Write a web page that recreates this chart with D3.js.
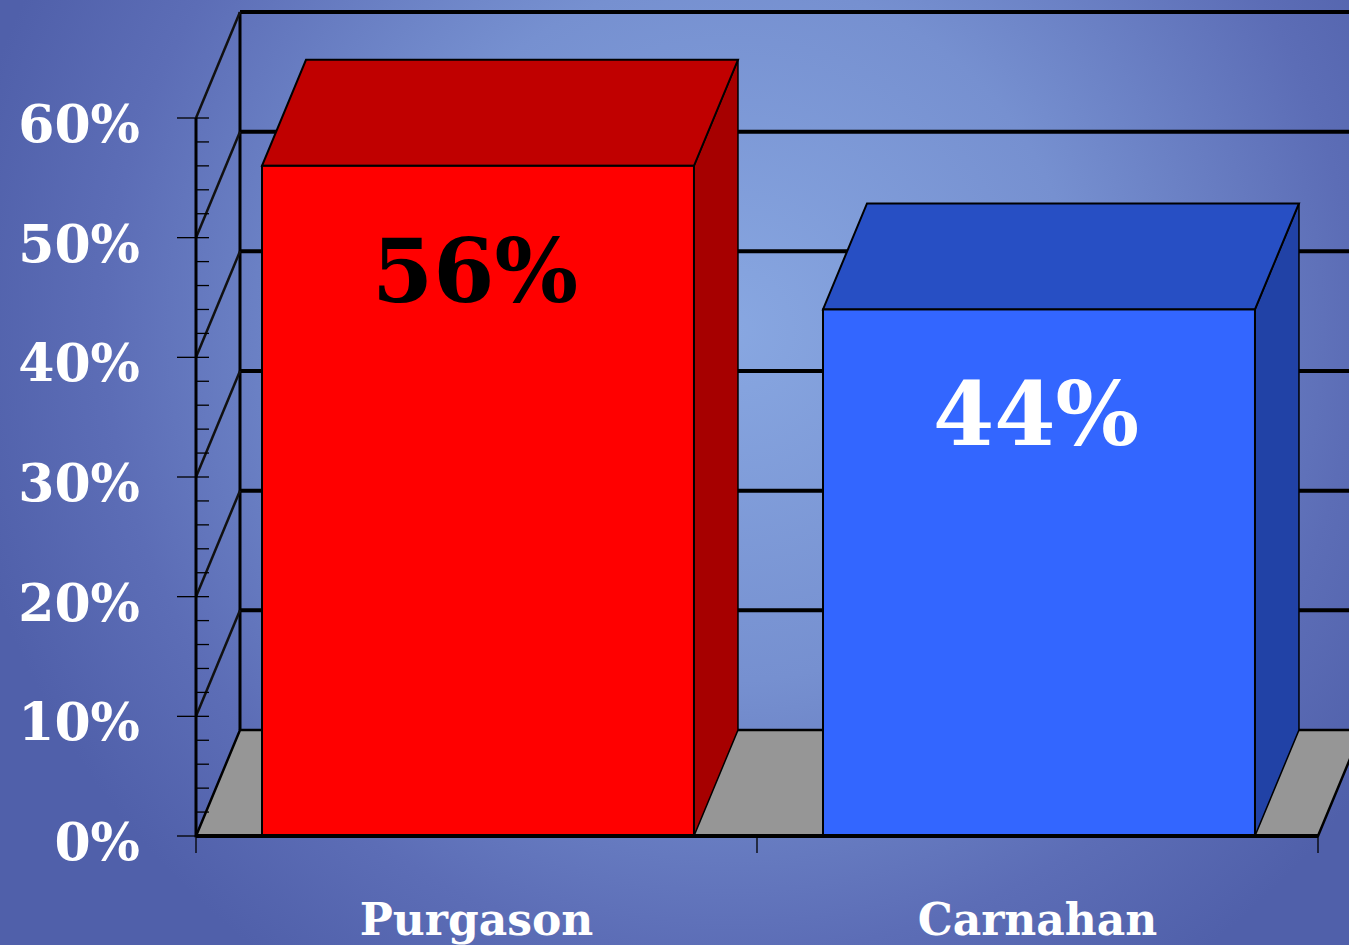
<!DOCTYPE html>
<html>
<head>
<meta charset="utf-8">
<script src="https://cdn.jsdelivr.net/npm/d3@7"></script>
<style>
  html, body { margin: 0; padding: 0; overflow: hidden; background: #5060aa; }
  svg { display: block; }
  text { font-family: "DejaVu Serif", serif; font-weight: bold; }
</style>
</head>
<body>
<svg id="chart" width="1349" height="945"></svg>
<script>
// Data
const candidates = ['Purgason', 'Carnahan'];
const shares = [0.56, 0.44];
const valueLabels = ['56%', '44%'];
const yTicks = [0, 0.1, 0.2, 0.3, 0.4, 0.5, 0.6];
const yTickLabels = ['0%', '10%', '20%', '30%', '40%', '50%', '60%'];

const frontColors = ['#ff0000', '#3366ff'];
const topColors = ['#c00000', '#274fc4'];
const sideColors = ['#a60000', '#2142a6'];
const labelColors = ['#000000', '#ffffff'];

const svg = d3.select('#chart');
const W = 1349, H = 945;

// 3D depth offset
const DX = 44, DY = -106;

const y = d3.scaleLinear().domain([0, 0.6]).range([836, 118]);
const x = d3.scaleBand().domain(candidates).range([196, 1318]).padding(0);
const barPad = 66;
const barW = x.bandwidth() * 0.77;

const defs = svg.append('defs');
const bg = defs.append('radialGradient')
  .attr('id', 'bg')
  .attr('gradientUnits', 'userSpaceOnUse')
  .attr('cx', 730).attr('cy', 330).attr('r', 780);
bg.append('stop').attr('offset', 0).attr('stop-color', '#88a7e1');
bg.append('stop').attr('offset', 0.45).attr('stop-color', '#7690d0');
bg.append('stop').attr('offset', 0.8).attr('stop-color', '#5c6db6');
bg.append('stop').attr('offset', 1).attr('stop-color', '#5060aa');

svg.append('rect').attr('width', W).attr('height', H).attr('fill', 'url(#bg)');

const x0 = x.range()[0], x1 = x.range()[1];

// back wall gridlines
svg.append('g')
  .selectAll('line')
  .data(yTicks.filter(t => t > 0))
  .join('line')
  .attr('x1', x0 + DX).attr('x2', x1 + DX + 40)
  .attr('y1', d => y(d) + DY).attr('y2', d => y(d) + DY)
  .attr('stroke', '#000').attr('stroke-width', 4);

// back wall left edge
svg.append('line')
  .attr('x1', x0 + DX).attr('x2', x0 + DX)
  .attr('y1', y(0.6) + DY).attr('y2', y(0) + DY)
  .attr('stroke', '#000').attr('stroke-width', 3);

// side wall diagonals
svg.append('g')
  .selectAll('line')
  .data(yTicks.filter(t => t > 0))
  .join('line')
  .attr('x1', x0).attr('y1', d => y(d))
  .attr('x2', x0 + DX).attr('y2', d => y(d) + DY)
  .attr('stroke', '#111').attr('stroke-width', 2.5);

// floor
svg.append('path')
  .attr('d', `M${x0},${y(0)}L${x1},${y(0)}L${x1 + DX},${y(0) + DY}L${x0 + DX},${y(0) + DY}Z`)
  .attr('fill', '#969696')
  .attr('stroke', '#000').attr('stroke-width', 2.5);

// front value axis
svg.append('line')
  .attr('x1', x0).attr('x2', x0)
  .attr('y1', y(0.6)).attr('y2', y(0))
  .attr('stroke', '#000').attr('stroke-width', 3);

const minorTicks = d3.range(0, 61, 2).map(v => v / 100);
svg.append('g')
  .selectAll('line')
  .data(minorTicks)
  .join('line')
  .attr('x1', d => (Math.round(d * 100) % 10 === 0) ? x0 - 19 : x0)
  .attr('x2', x0 + 13)
  .attr('y1', d => y(d)).attr('y2', d => y(d))
  .attr('stroke', '#000').attr('stroke-width', 1.3);

// bars
const bars = svg.append('g')
  .selectAll('g')
  .data(candidates)
  .join('g');

bars.append('path') // side
  .attr('d', (d, i) => {
    const bx = x(d) + barPad + barW, top = y(shares[i]), bot = y(0);
    return `M${bx},${bot}L${bx},${top}L${bx + DX},${top + DY}L${bx + DX},${bot + DY}Z`;
  })
  .attr('fill', (d, i) => sideColors[i])
  .attr('stroke', '#000').attr('stroke-width', 1.5);

bars.append('path') // top
  .attr('d', (d, i) => {
    const bx = x(d) + barPad, top = y(shares[i]);
    return `M${bx},${top}L${bx + barW},${top}L${bx + barW + DX},${top + DY}L${bx + DX},${top + DY}Z`;
  })
  .attr('fill', (d, i) => topColors[i])
  .attr('stroke', '#000').attr('stroke-width', 2);

bars.append('rect') // front
  .attr('x', d => x(d) + barPad)
  .attr('y', (d, i) => y(shares[i]))
  .attr('width', barW)
  .attr('height', (d, i) => y(0) - y(shares[i]))
  .attr('fill', (d, i) => frontColors[i])
  .attr('stroke', '#000').attr('stroke-width', 2);

bars.append('text')
  .attr('x', d => x(d) + barPad + barW / 2 - 3)
  .attr('y', (d, i) => y(shares[i]) + 136)
  .attr('text-anchor', 'middle')
  .attr('font-size', 88)
  .attr('fill', (d, i) => labelColors[i])
  .text((d, i) => valueLabels[i]);

// front category axis
svg.append('line')
  .attr('x1', x0).attr('x2', x1)
  .attr('y1', y(0)).attr('y2', y(0))
  .attr('stroke', '#000').attr('stroke-width', 4);

svg.append('g')
  .selectAll('line')
  .data([x0, x(candidates[1]), x1])
  .join('line')
  .attr('x1', d => d).attr('x2', d => d)
  .attr('y1', y(0)).attr('y2', y(0) + 17)
  .attr('stroke', '#000').attr('stroke-width', 1.3);

// y labels
svg.append('g')
  .selectAll('text')
  .data(yTicks)
  .join('text')
  .attr('x', 140)
  .attr('y', d => y(d) + 24)
  .attr('text-anchor', 'end')
  .attr('font-size', 52)
  .attr('fill', '#fff')
  .text((d, i) => yTickLabels[i]);

// category labels
svg.append('g')
  .selectAll('text')
  .data(candidates)
  .join('text')
  .attr('x', d => x(d) + x.bandwidth() / 2)
  .attr('y', 935)
  .attr('text-anchor', 'middle')
  .attr('font-size', 44)
  .attr('fill', '#fff')
  .text(d => d);
</script>
</body>
</html>
